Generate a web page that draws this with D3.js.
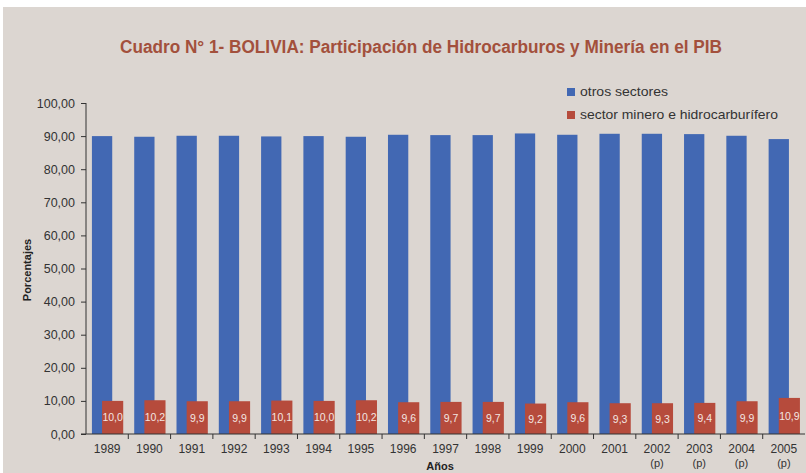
<!DOCTYPE html>
<html><head><meta charset="utf-8">
<script src="https://cdn.jsdelivr.net/npm/d3@7"></script>
<style>html,body{margin:0;padding:0;background:#fff;}svg{display:block;}</style>
</head><body>
<svg id="c" width="806" height="473"></svg>
<script>
const years = ["1989","1990","1991","1992","1993","1994","1995","1996","1997","1998","1999","2000","2001","2002","2003","2004","2005"];
const yearNotes = ["","","","","","","","","","","","","","(p)","(p)","(p)","(p)"];
const otros = [90.0,89.8,90.1,90.1,89.9,90.0,89.8,90.4,90.3,90.3,90.8,90.4,90.7,90.7,90.6,90.1,89.1];
const minero = [10.0,10.2,9.9,9.9,10.1,10.0,10.2,9.6,9.7,9.7,9.2,9.6,9.3,9.3,9.4,9.9,10.9];
const yTicks = [0,10,20,30,40,50,60,70,80,90,100];
const seriesNames = ["otros sectores","sector minero e hidrocarburífero"];

const svg = d3.select("#c");
const bg = "#dcd6d1", blue = "#4268b3", red = "#b64b3c";
svg.append("rect").attr("x",3).attr("y",7).attr("width",803).attr("height",466).attr("fill",bg);

const x = d3.scaleBand().domain(years).range([86,805]).padding(0);
const y = d3.scaleLinear().domain([0,100]).range([434,103]);
const bw = x.bandwidth();
const fmt = v => d3.format(".1f")(v).replace(".",",");
const fmt2 = v => d3.format(".2f")(v).replace(".",",");

svg.append("text").attr("x",421).attr("y",53).attr("text-anchor","middle")
  .attr("font-family","Liberation Sans Narrow, Arial Narrow, Liberation Sans, sans-serif")
  .attr("font-weight","bold").attr("font-size",18).attr("fill","#a3503c")
  .attr("textLength",602).attr("lengthAdjust","spacingAndGlyphs")
  .text("Cuadro N° 1- BOLIVIA: Participación de Hidrocarburos y Minería en el PIB");

// bars
const g = svg.append("g");
g.selectAll(".b").data(years).join("rect")
  .attr("x",d=>x(d)+bw*0.14).attr("width",bw*0.48)
  .attr("y",(d,i)=>y(otros[i])).attr("height",(d,i)=>y(0)-y(otros[i]))
  .attr("fill",blue);
g.selectAll(".r").data(years).join("rect")
  .attr("x",d=>x(d)+bw*0.38).attr("width",bw*0.5)
  .attr("y",(d,i)=>y(minero[i])).attr("height",(d,i)=>y(0)-y(minero[i]))
  .attr("fill",red);
g.selectAll(".lbl").data(years).join("text")
  .attr("x",d=>x(d)+bw*0.63).attr("y",(d,i)=>(y(minero[i])+y(0))/2+4)
  .attr("text-anchor","middle").attr("font-family","Liberation Sans, Arial, sans-serif")
  .attr("font-size",10.5).attr("fill","#f3e6e2")
  .text((d,i)=>fmt(minero[i]));

// y axis
const ya = svg.append("g").attr("transform","translate(86,0)")
  .call(d3.axisLeft(y).tickValues(yTicks).tickFormat(fmt2).tickSize(5).tickPadding(6));
ya.select(".domain").attr("stroke","#333").attr("d","M0,103V434");
ya.selectAll(".tick line").attr("stroke","#333");
ya.selectAll("text").attr("font-family","Liberation Sans, Arial, sans-serif").attr("font-size",12.5).attr("fill","#333");

// x axis
const xa = svg.append("g").attr("transform","translate(0,434)");
xa.append("line").attr("x1",81).attr("x2",805).attr("y1",0).attr("y2",0).attr("stroke","#333");
xa.selectAll(".tk").data(years.slice(1)).join("line")
  .attr("x1",d=>x(d)).attr("x2",d=>x(d)).attr("y1",0).attr("y2",5).attr("stroke","#333");
xa.selectAll(".yl").data(years).join("text")
  .attr("x",d=>x(d)+bw/2).attr("y",19).attr("text-anchor","middle")
  .attr("font-family","Liberation Sans, Arial, sans-serif").attr("font-size",12).attr("fill","#333")
  .text(d=>d);
xa.selectAll(".pl").data(years).join("text")
  .attr("x",d=>x(d)+bw/2).attr("y",33).attr("text-anchor","middle")
  .attr("font-family","Liberation Sans, Arial, sans-serif").attr("font-size",11).attr("fill","#333")
  .text((d,i)=>yearNotes[i]);

svg.append("text").attr("x",440).attr("y",470).attr("text-anchor","middle")
  .attr("font-family","Liberation Sans, Arial, sans-serif").attr("font-weight","bold")
  .attr("font-size",11).attr("fill","#222").text("Años");
svg.append("text").attr("transform","translate(31,270) rotate(-90)").attr("text-anchor","middle")
  .attr("font-family","Liberation Sans Narrow, Arial Narrow, Liberation Sans, sans-serif").attr("font-weight","bold")
  .attr("font-size",11).attr("fill","#222").text("Porcentajes");

// legend
const lg = svg.append("g");
const legW = [88,198];
[blue,red].forEach((c,i)=>{
  lg.append("rect").attr("x",567).attr("y",88+i*23).attr("width",8).attr("height",8).attr("fill",c);
  lg.append("text").attr("x",580).attr("y",96+i*23)
    .attr("font-family","Liberation Sans, Arial, sans-serif").attr("font-size",13).attr("fill","#333")
    .attr("textLength",legW[i]).attr("lengthAdjust","spacingAndGlyphs")
    .text(seriesNames[i]);
});
</script>
</body></html>
